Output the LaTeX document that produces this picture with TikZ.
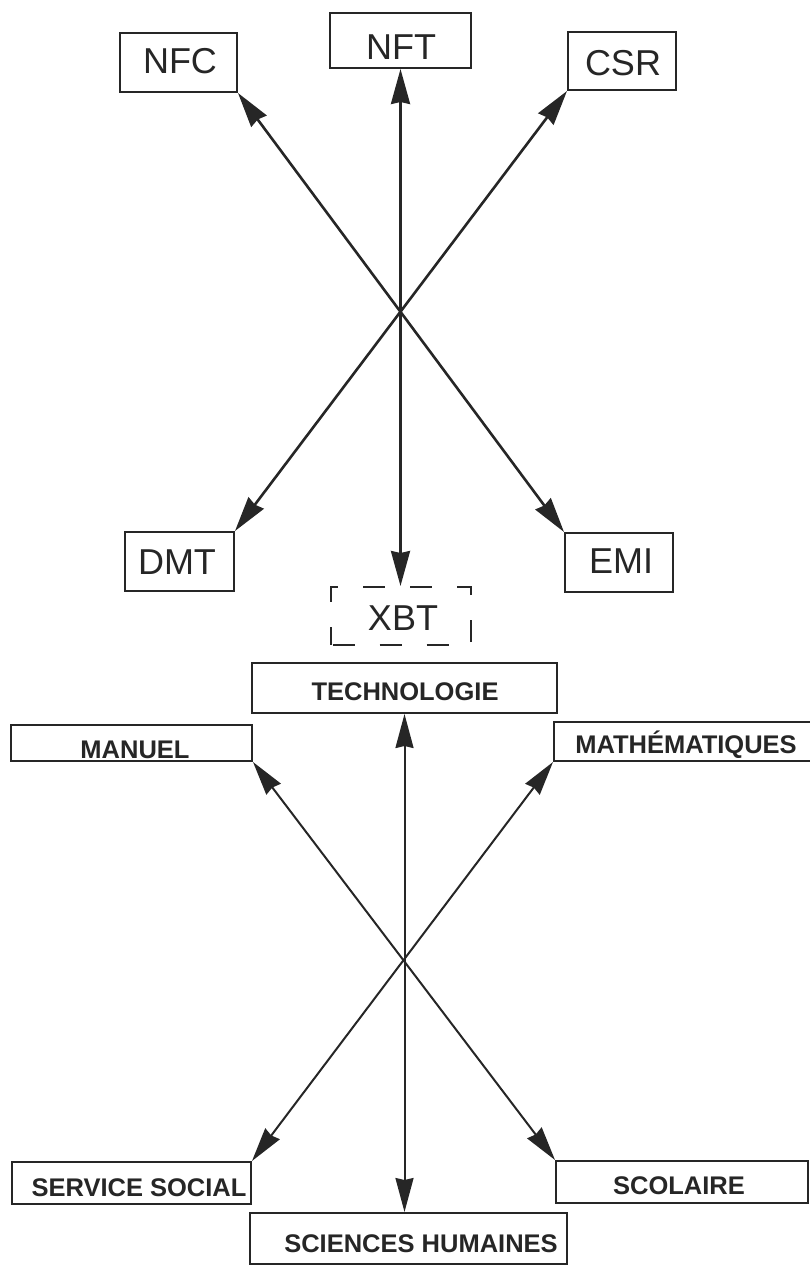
\documentclass[tikz,border=0pt]{standalone}
\usepackage{fontspec}
\setmainfont{Liberation Sans}
\usetikzlibrary{arrows.meta}
\begin{document}
\begin{tikzpicture}[x=1pt,y=-1pt,
  box/.style={draw=black!85, line width=2pt, rectangle, inner sep=0pt},
  dbox/.style={box, dash pattern=on 22pt off 25pt, dash phase=-2pt},
  bigtxt/.style={anchor=base, inner sep=0pt, font=\fontsize{36}{40}\selectfont, text=black!85},
  smalltxt/.style={anchor=base, inner sep=0pt, font=\fontsize{25.5}{30}\selectfont\bfseries, text=black!85},
  arr/.style={{Stealth[length=35pt,width=19pt,inset=2pt]}-{Stealth[length=35pt,width=19pt,inset=2pt]}, draw=black!85, line width=2.6pt},
  arrthin/.style={{Stealth[length=34pt,width=18pt,inset=2pt]}-{Stealth[length=34pt,width=18pt,inset=2pt]}, draw=black!85, line width=2pt}]
\useasboundingbox (0,0) rectangle (809,1265);

% upper diagram: boxes
\node[box, minimum width=117pt, minimum height=59pt] (nfc) at (178.5,62.5) {};
\node[box, minimum width=141pt, minimum height=55pt] (nft) at (400.5,40.5) {};
\node[box, minimum width=108pt, minimum height=58pt] (csr) at (622,61) {};
\node[box, minimum width=109pt, minimum height=59pt] (dmt) at (179.5,561.5) {};
\node[box, minimum width=108pt, minimum height=59pt] (emi) at (619,562.5) {};
\node[dbox, minimum width=140pt, minimum height=58pt] (xbt) at (400.5,616) {};

% upper diagram: labels
\node[bigtxt] (tnfc) at (180,74) {NFC};
\node[bigtxt] (tnft) at (401,60) {NFT};
\node[bigtxt] (tcsr) at (623,76) {CSR};
\node[bigtxt] (tdmt) at (177,574) {DMT};
\node[bigtxt] (temi) at (621,573) {EMI};
\node[bigtxt] (txbt) at (403,630) {XBT};

% upper diagram: connectors
\draw[arr] (nfc.south east) -- (emi.north west);
\draw[arr] (csr.south west) -- (dmt.north east);
\draw[arr] (nft.south) -- (nft.south |- xbt.north);

% lower diagram: boxes
\node[box, minimum width=305pt, minimum height=50pt] (tech) at (404.5,688) {};
\node[box, minimum width=241pt, minimum height=36pt] (manuel) at (131.5,743) {};
\node[box, minimum width=258pt, minimum height=39pt] (math) at (683,741.5) {};
\node[box, minimum width=239pt, minimum height=42pt] (serv) at (131.5,1183) {};
\node[box, minimum width=252pt, minimum height=42pt] (scol) at (682,1182) {};
\node[box, minimum width=317pt, minimum height=51pt] (sci) at (408.5,1238.5) {};

% lower diagram: labels
\node[smalltxt] (ttech) at (405,700) {TECHNOLOGIE};
\node[smalltxt] (tmanuel) at (135,758) {MANUEL};
\node[smalltxt] (tmath) at (686,753) {MATHÉMATIQUES};
\node[smalltxt] (tserv) at (139,1196) {SERVICE SOCIAL};
\node[smalltxt] (tscol) at (679,1194) {SCOLAIRE};
\node[smalltxt] (tsci) at (421,1252) {SCIENCES HUMAINES};

% lower diagram: connectors
\draw[arrthin] (manuel.south east) -- (scol.north west);
\draw[arrthin] (math.south west) -- (serv.north east);
\draw[arrthin] (tech.south) -- (tech.south |- sci.north);
\end{tikzpicture}
\end{document}
